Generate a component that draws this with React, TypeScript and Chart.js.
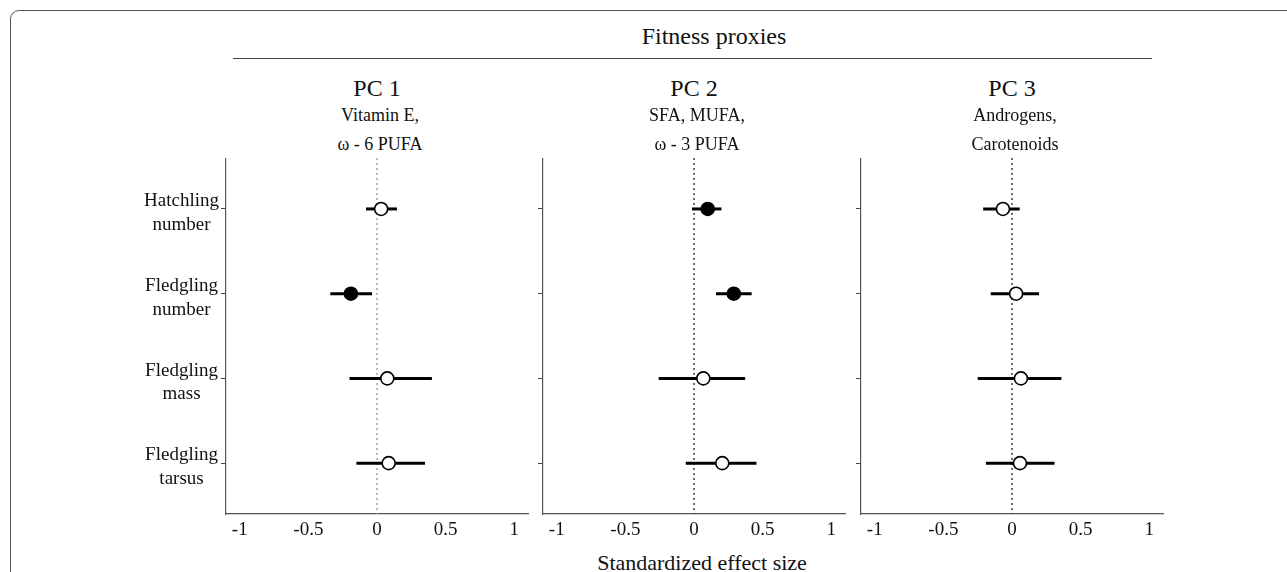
import React, { useEffect, useRef } from "react";
import { Chart, registerables } from "chart.js";

Chart.register(...registerables);

// ---------- data ----------
const CATEGORIES: string[][] = [
  ["Hatchling", "number"],
  ["Fledgling", "number"],
  ["Fledgling", "mass"],
  ["Fledgling", "tarsus"],
];
const CATEGORY_POS = [1, 2, 3, 4];
const X_TICKS = [-1, -0.5, 0, 0.5, 1];
const X_TICK_LABELS = ["-1", "-0.5", "0", "0.5", "1"];

const SUPER_TITLE = "Fitness proxies";
const AXIS_TITLE = "Standardized effect size";
const PANEL_TITLES = ["PC 1", "PC 2", "PC 3"];
const PANEL_SUBTITLES = [
  ["Vitamin E,", "ω - 6 PUFA"],
  ["SFA, MUFA,", "ω - 3 PUFA"],
  ["Androgens,", "Carotenoids"],
];

const PC1_EST = [0.03, -0.19, 0.075, 0.085];
const PC1_LO = [-0.08, -0.34, -0.2, -0.15];
const PC1_HI = [0.145, -0.036, 0.4, 0.35];
const PC1_SIG = [false, true, false, false];

const PC2_EST = [0.1, 0.29, 0.068, 0.206];
const PC2_LO = [-0.015, 0.16, -0.257, -0.06];
const PC2_HI = [0.2, 0.42, 0.373, 0.455];
const PC2_SIG = [true, true, false, false];

const PC3_EST = [-0.066, 0.03, 0.065, 0.058];
const PC3_LO = [-0.21, -0.155, -0.25, -0.19];
const PC3_HI = [0.056, 0.197, 0.36, 0.31];
const PC3_SIG = [false, false, false, false];

// ---------- layout ----------
const SERIF = "'Liberation Serif', 'Times New Roman', Times, serif";
const AX_LEFT = [226, 543, 861];
const AX_W = 302;
const AREA_TOP = 158;
const AREA_BOTTOM = 514;
const CANVAS_TOP = 150;
const CANVAS_H = 400;
const Y_W = 110;
const PAD_R = 20;
const X_MIN = -1.1;
const X_MAX = 1.1;
const Y_MIN = 0.4;
const Y_MAX = 4.6;

type PanelProps = {
  left: number;
  est: number[];
  lo: number[];
  hi: number[];
  sig: boolean[];
  showLabels: boolean;
  zeroColor: string;
};

function Panel({ left, est, lo, hi, sig, showLabels, zeroColor }: PanelProps) {
  const ref = useRef<HTMLCanvasElement>(null);
  useEffect(() => {
    if (!ref.current) return;
    const datasets: any[] = [];
    datasets.push({
      data: est.map((v, i) => ({ x: v, y: CATEGORY_POS[i] })),
      pointRadius: 6.5,
      pointBackgroundColor: sig.map((s) => (s ? "#000" : "#fff")),
      pointBorderColor: "#000",
      pointBorderWidth: 1.6,
      showLine: false,
      order: 0,
    });
    est.forEach((_, i) => {
      datasets.push({
        data: [
          { x: lo[i], y: CATEGORY_POS[i] },
          { x: hi[i], y: CATEGORY_POS[i] },
        ],
        showLine: true,
        borderColor: "#000",
        borderWidth: 3,
        borderCapStyle: "butt",
        pointRadius: 0,
        order: 1,
      });
    });
    datasets.push({
      data: [
        { x: 0, y: Y_MIN },
        { x: 0, y: Y_MAX },
      ],
      showLine: true,
      borderColor: zeroColor,
      borderWidth: 1.3,
      borderDash: [2, 3],
      pointRadius: 0,
      order: 2,
    });

    const chart = new Chart(ref.current, {
      type: "scatter",
      data: { datasets },
      options: {
        animation: false,
        responsive: false,
        maintainAspectRatio: false,
        layout: { padding: { top: AREA_TOP - CANVAS_TOP, right: PAD_R, left: 0, bottom: 0 } },
        plugins: { legend: { display: false }, tooltip: { enabled: false } },
        scales: {
          x: {
            type: "linear",
            min: X_MIN,
            max: X_MAX,
            afterBuildTicks: (s: any) => {
              s.ticks = X_TICKS.map((v) => ({ value: v }));
            },
            afterFit: (s: any) => {
              s.height = CANVAS_TOP + CANVAS_H - AREA_BOTTOM;
              s.paddingLeft = 0;
              s.paddingRight = 0;
            },
            grid: { display: false, drawTicks: false },
            border: { display: true, color: "#555", width: 1.2 },
            ticks: {
              callback: (v: any) => {
                const idx = X_TICKS.indexOf(Number(v));
                return idx >= 0 ? X_TICK_LABELS[idx] : "";
              },
              color: "#111",
              font: { family: SERIF, size: 19 },
              padding: 5,
              maxRotation: 0,
              autoSkip: false,
            },
          },
          y: {
            type: "linear",
            reverse: true,
            min: Y_MIN,
            max: Y_MAX,
            afterBuildTicks: (s: any) => {
              s.ticks = CATEGORY_POS.map((v) => ({ value: v }));
            },
            afterFit: (s: any) => {
              s.width = Y_W;
              s.paddingTop = 0;
              s.paddingBottom = 0;
            },
            grid: {
              display: true,
              drawOnChartArea: false,
              drawTicks: true,
              tickLength: 5,
              color: "#444",
              lineWidth: 1,
            },
            border: { display: true, color: "#555", width: 1.2 },
            ticks: {
              callback: (v: any) => {
                if (!showLabels) return "";
                const idx = CATEGORY_POS.indexOf(Number(v));
                return idx >= 0 ? CATEGORIES[idx] : "";
              },
              crossAlign: "center",
              labelOffset: 4,
              padding: 2,
              color: "#111",
              font: { family: SERIF, size: 19, lineHeight: 1.25 },
              autoSkip: false,
            },
          },
        },
      } as any,
    });
    return () => chart.destroy();
  }, []);
  const w = Y_W + AX_W + PAD_R;
  return (
    <canvas
      ref={ref}
      width={w}
      height={CANVAS_H}
      style={{
        position: "absolute",
        left: left - Y_W,
        top: CANVAS_TOP,
        width: w,
        height: CANVAS_H,
      }}
    />
  );
}

const textStyle = (cx: number, cy: number, size: number, width = 300): React.CSSProperties => ({
  position: "absolute",
  left: cx - width / 2,
  top: cy - size * 0.6,
  width,
  height: size * 1.2,
  lineHeight: `${size * 1.2}px`,
  fontSize: size,
  fontFamily: SERIF,
  textAlign: "center",
  color: "#111",
  whiteSpace: "nowrap",
});

export default function App() {
  const panels = [
    { est: PC1_EST, lo: PC1_LO, hi: PC1_HI, sig: PC1_SIG, zero: "#999" },
    { est: PC2_EST, lo: PC2_LO, hi: PC2_HI, sig: PC2_SIG, zero: "#222" },
    { est: PC3_EST, lo: PC3_LO, hi: PC3_HI, sig: PC3_SIG, zero: "#222" },
  ];
  return (
    <div
      style={{
        position: "fixed",
        left: 0,
        top: 0,
        width: 1287,
        height: 572,
        background: "#fff",
        overflow: "hidden",
      }}
    >
      <div
        style={{
          position: "absolute",
          left: 10,
          top: 10,
          width: 1400,
          height: 700,
          border: "1.5px solid #555",
          borderRadius: 9,
        }}
      />
      <div style={textStyle(714, 36, 24)}>{SUPER_TITLE}</div>
      <div
        style={{
          position: "absolute",
          left: 233,
          top: 58,
          width: 1152 - 233,
          height: 0,
          borderTop: "1.5px solid #444",
        }}
      />
      {panels.map((p, i) => {
        const cx = AX_LEFT[i] + AX_W / 2;
        return (
          <React.Fragment key={i}>
            <div style={textStyle(cx, 88, 24)}>{PANEL_TITLES[i]}</div>
            <div style={textStyle(cx + 3, 116, 18)}>{PANEL_SUBTITLES[i][0]}</div>
            <div style={textStyle(cx + 3, 145, 18)}>{PANEL_SUBTITLES[i][1]}</div>
            <Panel
              left={AX_LEFT[i]}
              est={p.est}
              lo={p.lo}
              hi={p.hi}
              sig={p.sig}
              showLabels={i === 0}
              zeroColor={p.zero}
            />
          </React.Fragment>
        );
      })}
      <div style={textStyle(702, 563, 22, 400)}>{AXIS_TITLE}</div>
    </div>
  );
}
